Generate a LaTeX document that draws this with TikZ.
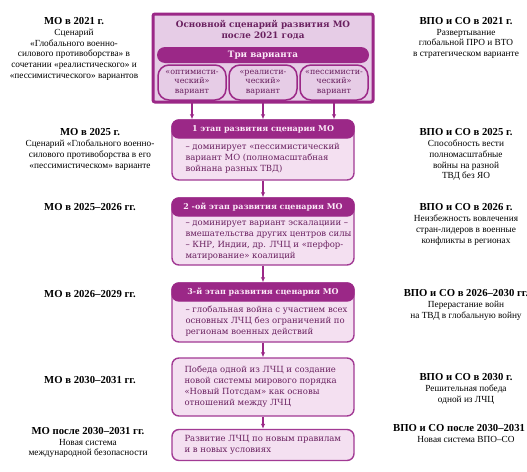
\documentclass[tikz,border=0pt]{standalone}
\usepackage{fontspec}
\setmainfont{Liberation Serif}
\newfontfamily\boxfont{DejaVu Serif}
\usetikzlibrary{arrows.meta,positioning}
\definecolor{plum}{RGB}{155,40,135}
\definecolor{plumline}{RGB}{162,58,148}
\definecolor{lilac}{RGB}{230,204,230}
\definecolor{palepink}{RGB}{244,224,241}
\definecolor{plumtext}{RGB}{105,32,95}
\definecolor{hdrtext}{RGB}{252,234,248}

\begin{document}
\begin{tikzpicture}[x=1pt,y=-1pt,
  sidehd/.style={align=center,inner sep=0pt,font=\fontsize{10.7}{12}\selectfont\bfseries},
  sidetxt/.style={align=center,inner sep=0pt,font=\fontsize{9.3}{10.7}\selectfont},
  topframe/.style={draw=plum,line width=3pt,fill=lilac,rounded corners=2pt,
                   minimum width=220pt,minimum height=88pt},
  toptitle/.style={align=center,inner sep=0pt,text=plumtext,
                   font=\boxfont\bfseries\fontsize{8.8}{11}\selectfont},
  band/.style={fill=plum,rounded corners=8pt,minimum width=212pt,minimum height=16pt,
               inner sep=0pt,text=hdrtext,font=\boxfont\bfseries\fontsize{8.8}{10}\selectfont},
  variant/.style={draw=plum,line width=1.5pt,fill=lilac,rounded corners=11pt,
                  minimum width=68pt,minimum height=35pt,inner sep=0pt,align=center,
                  text=plumtext,font=\boxfont\fontsize{8}{9.6}\selectfont},
  stagebox/.style={draw=plumline,line width=1.4pt,fill=palepink,rounded corners=7pt,
                   minimum width=182pt,inner sep=0pt},
  stagehdr/.style={draw=plum,line width=1.4pt,fill=plum,rounded corners=7pt,
                   minimum width=182pt,minimum height=18pt,inner sep=0pt,text=hdrtext,
                   font=\boxfont\bfseries\fontsize{8}{10}\selectfont},
  stagetxt/.style={align=left,inner sep=0pt,text=plumtext,
                   font=\boxfont\fontsize{8.5}{11}\selectfont},
  arr/.style={-{Latex[length=5pt,width=4.5pt]},line width=1.1pt,plum}]

  \fill[white] (0,0) rectangle (527,471);
  \useasboundingbox (0,0) rectangle (527,471);

  % main scenario with three variants
  \node[topframe] (top) at (263,58) {};
  \node[toptitle] (title) at (263,30.5) {Основной сценарий развития МО\\после 2021 года};
  \node[band] (three) at (263,55) {Три варианта};
  \node[variant] (opt) at (192,82.5) {«оптимисти-\\ческий»\\вариант};
  \node[variant] (real) at (263,82.5) {«реалисти-\\ческий»\\вариант};
  \node[variant] (pess) at (334,82.5) {«пессимисти-\\ческий»\\вариант};

  % stages
  \node[stagebox,minimum height=60pt] (s1) at (263,150) {};
  \node[stagehdr,anchor=north] (h1) at (s1.north) {1 этап развития сценария МО};
  \node[stagetxt,below right=4pt and 14pt of h1.south west] (t1) {– доминирует «пессимистический\\вариант МО (полномасштабная\\войнана разных ТВД)};

  \node[stagebox,minimum height=67pt] (s2) at (263,231.5) {};
  \node[stagehdr,anchor=north] (h2) at (s2.north) {2 -ой этап развития сценария МО};
  \node[stagetxt,below right=4pt and 14pt of h2.south west] (t2) {– доминирует вариант эскалациии –\\вмешательства других центров силы\\– КНР, Индии, др. ЛЧЦ и «перфор-\\матирование» коалиций};

  \node[stagebox,minimum height=59pt] (s3) at (263,312.5) {};
  \node[stagehdr,anchor=north] (h3) at (s3.north) {3-й этап развития сценария МО};
  \node[stagetxt,below right=4pt and 14pt of h3.south west] (t3) {– глобальная война с участием всех\\основных ЛЧЦ без ограничений по\\регионам военных действий};

  \node[stagebox,minimum height=58pt] (s4) at (263,387) {};
  \node[stagetxt,right=13pt of s4.west] (t4) {Победа одной из ЛЧЦ и создание\\новой системы мирового порядка\\«Новый Потсдам» как основы\\отношений между ЛЧЦ};

  \node[stagebox,minimum height=31pt] (s5) at (263,445) {};
  \node[stagetxt,right=13pt of s5.west] (t5) {Развитие ЛЧЦ по новым правилам\\и в новых условиях};

  \draw[arr] (opt) -- (opt |- s1.north);
  \draw[arr] (real) -- (real |- s1.north);
  \draw[arr] (pess) -- (pess |- s1.north);
  \draw[arr] (s1) -- (s2);
  \draw[arr] (s2) -- (s3);
  \draw[arr] (s3) -- (s4);
  \draw[arr] (s4) -- (s5);

  % left column
  \node[sidehd] (l1) at (74,21) {МО в 2021 г.};
  \node[sidetxt,below=4pt of l1] (l1t) {Сценарий\\«Глобального военно-\\силового противоборства» в\\сочетании «реалистического» и\\«пессимистического» вариантов};
  \node[sidehd] (l2) at (90,132) {МО в 2025 г.};
  \node[sidetxt,below=4pt of l2] (l2t) {Сценарий «Глобального военно-\\силового противоборства в его\\«пессимистическом» варианте};
  \node[sidehd] (l3) at (90,207) {МО в 2025–2026 гг.};
  \node[sidehd] (l4) at (90,294) {МО в 2026–2029 гг.};
  \node[sidehd] (l5) at (90,380) {МО в 2030–2031 гг.};
  \node[sidehd] (l6) at (88,431) {МО после 2030–2031 гг.};
  \node[sidetxt,below=4pt of l6] (l6t) {Новая система\\международной безопасности};

  % right column
  \node[sidehd] (r1) at (466,21) {ВПО и СО в 2021 г.};
  \node[sidetxt,below=4pt of r1] (r1t) {Развертывание\\глобальной ПРО и ВТО\\в стратегическом варианте};
  \node[sidehd] (r2) at (466,132) {ВПО и СО в 2025 г.};
  \node[sidetxt,below=4pt of r2] (r2t) {Способность вести\\полномасштабные\\войны на разной\\ТВД без ЯО};
  \node[sidehd] (r3) at (466,207) {ВПО и СО в 2026 г.};
  \node[sidetxt,below=4pt of r3] (r3t) {Неизбежность вовлечения\\стран-лидеров в военные\\конфликты в регионах};
  \node[sidehd] (r4) at (466,293) {ВПО и СО в 2026–2030 гг.};
  \node[sidetxt,below=4pt of r4] (r4t) {Перерастание войн\\на ТВД в глобальную войну};
  \node[sidehd] (r5) at (466,377) {ВПО и СО в 2030 г.};
  \node[sidetxt,below=4pt of r5] (r5t) {Решительная победа\\одной из ЛЧЦ};
  \node[sidehd] (r6) at (466,428) {ВПО и СО после 2030–2031 гг.};
  \node[sidetxt,below=4pt of r6] (r6t) {Новая система ВПО–СО};
\end{tikzpicture}
\end{document}
